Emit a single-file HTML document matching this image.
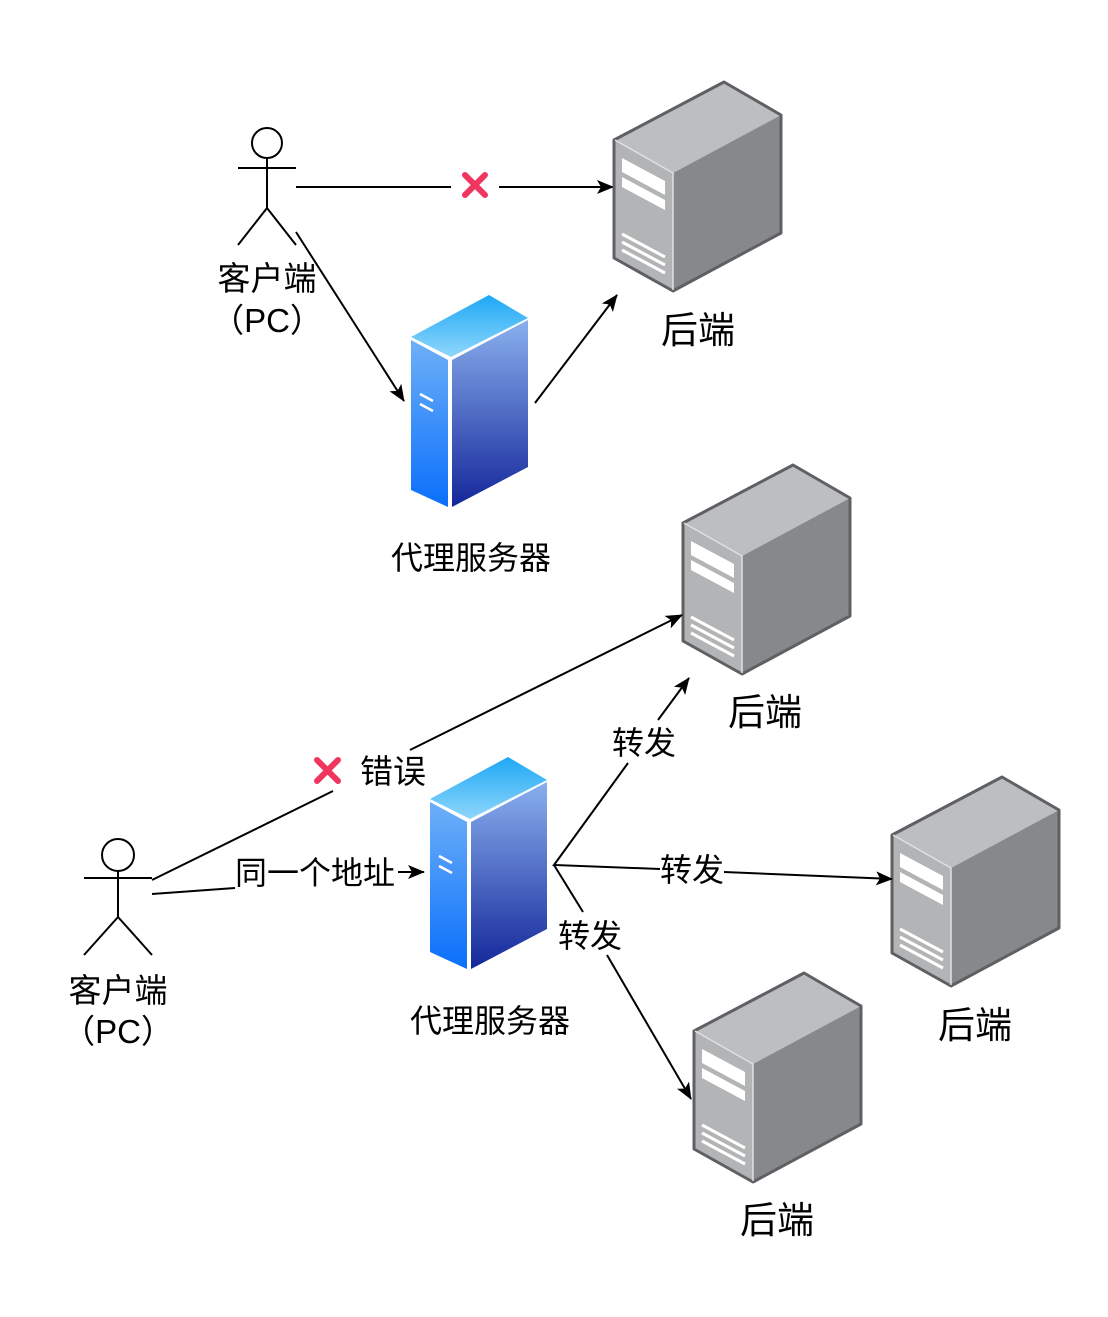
<!DOCTYPE html>
<html><head><meta charset="utf-8"><style>
html,body{margin:0;padding:0;background:#fff}
svg{display:block}
text{font-family:"Liberation Sans","Noto Sans CJK SC",sans-serif;fill:#000}
</style></head><body>
<svg width="1108" height="1317" viewBox="0 0 1108 1317" xmlns="http://www.w3.org/2000/svg">
<defs>
<marker id="ar" markerWidth="17" markerHeight="14" refX="16" refY="7" orient="auto" markerUnits="userSpaceOnUse">
<path d="M0,0 L17,7 L0,14 L4,7 Z" fill="#000"/>
</marker>
<linearGradient id="bt" x1="0" y1="0" x2="0" y2="1"><stop offset="0" stop-color="#1ea8f5"/><stop offset="1" stop-color="#8fd6fb"/></linearGradient>
<linearGradient id="bf" x1="0" y1="0" x2="0" y2="1"><stop offset="0" stop-color="#6eb0f8"/><stop offset="1" stop-color="#0a6ffb"/></linearGradient>
<linearGradient id="br" x1="0" y1="0" x2="0" y2="1"><stop offset="0" stop-color="#8ab0ee"/><stop offset="1" stop-color="#14279a"/></linearGradient>
<g id="gs">
<path d="M0,58 L110,0 L167,33 L59,91 Z" fill="#bdbec0"/>
<path d="M0,58 L59,91 L59,209 L0,176 Z" fill="#b3b4b6"/>
<path d="M59,91 L167,33 L167,151 L59,209 Z" fill="#87888b"/>
<path d="M0,58 L110,0 L167,33 L167,151 L59,209 L0,176 Z" fill="none" stroke="#5f6063" stroke-width="3" stroke-linejoin="round"/>
<path d="M1,58 L59,91 L59,208" fill="none" stroke="#e0e0e2" stroke-width="1.5"/>
<path d="M8,76 L51,99 L51,113 L8,90 Z M8,95 L51,118 L51,128 L8,105 Z" fill="#fff"/>
<path d="M8,152 L51,175 M8,160 L51,183 M8,168 L51,191" stroke="#fff" stroke-width="3"/>
</g>
<g id="bs">
<path d="M0,42 L78,0 L117,23 L40,62 Z" fill="url(#bt)"/>
<path d="M0,45 L37,65 L37,212 L0,195 Z" fill="url(#bf)"/>
<path d="M41,65 L117,25 L117,172 L41,212 Z" fill="url(#br)"/>
<path d="M9,99 L22,106 M9,109 L22,116" stroke="#fff" stroke-width="2.5"/>
</g>
</defs>

<g fill="none" stroke="#000" stroke-width="2">
<circle cx="267" cy="143" r="15"/>
<path d="M238,168 H296 M267,158 V208 L238,245 M267,208 L296,245"/>
<path d="M296,187 H451"/>
<path d="M499,187 H613" marker-end="url(#ar)"/>
<path d="M296,232 L404,401" marker-end="url(#ar)"/>
<path d="M535,403 L617,295" marker-end="url(#ar)"/>
</g>
<path d="M465,175 L485,195 M485,175 L465,195" stroke="#f0365e" stroke-width="6" stroke-linecap="round"/>
<use href="#gs" x="614" y="82"/>
<use href="#bs" x="411" y="295"/>
<text x="267" y="290" font-size="33" text-anchor="middle">客户端</text>
<text x="267" y="332" font-size="33" text-anchor="middle">（PC）</text>
<text x="698" y="343" font-size="37" text-anchor="middle">后端</text>
<text x="471" y="569" font-size="32" text-anchor="middle">代理服务器</text>

<use href="#gs" x="683" y="465"/>
<use href="#gs" x="892" y="777"/>
<use href="#gs" x="694" y="973"/>
<use href="#bs" x="430" y="757"/>
<g fill="none" stroke="#000" stroke-width="2">
<circle cx="118" cy="855" r="16"/>
<path d="M84,878 H152 M118,871 V917 L84,955 M118,917 L152,955"/>
<path d="M152,880 L333,791"/>
<path d="M410,750 L682,615" marker-end="url(#ar)"/>
<path d="M152,894 L235,888"/>
<path d="M398,872 L424,872" marker-end="url(#ar)"/>
<path d="M628,763 L554,865 L660,869"/>
<path d="M658,720 L689,678" marker-end="url(#ar)"/>
<path d="M724,872 L892,879" marker-end="url(#ar)"/>
<path d="M554,865 L583,912"/>
<path d="M607,955 L691,1099" marker-end="url(#ar)"/>
</g>
<path d="M317,760 L338,781 M338,760 L317,781" stroke="#f0365e" stroke-width="6" stroke-linecap="round"/>
<text x="360" y="783" font-size="33">错误</text>
<text x="235" y="884" font-size="32">同一个地址</text>
<text x="612" y="754" font-size="32">转发</text>
<text x="660" y="881" font-size="32">转发</text>
<text x="558" y="947" font-size="32">转发</text>
<text x="765" y="725" font-size="37" text-anchor="middle">后端</text>
<text x="975" y="1038" font-size="37" text-anchor="middle">后端</text>
<text x="777" y="1233" font-size="37" text-anchor="middle">后端</text>
<text x="118" y="1002" font-size="33" text-anchor="middle">客户端</text>
<text x="118" y="1043" font-size="33" text-anchor="middle">（PC）</text>
<text x="490" y="1032" font-size="32" text-anchor="middle">代理服务器</text>
</svg>
</body></html>
